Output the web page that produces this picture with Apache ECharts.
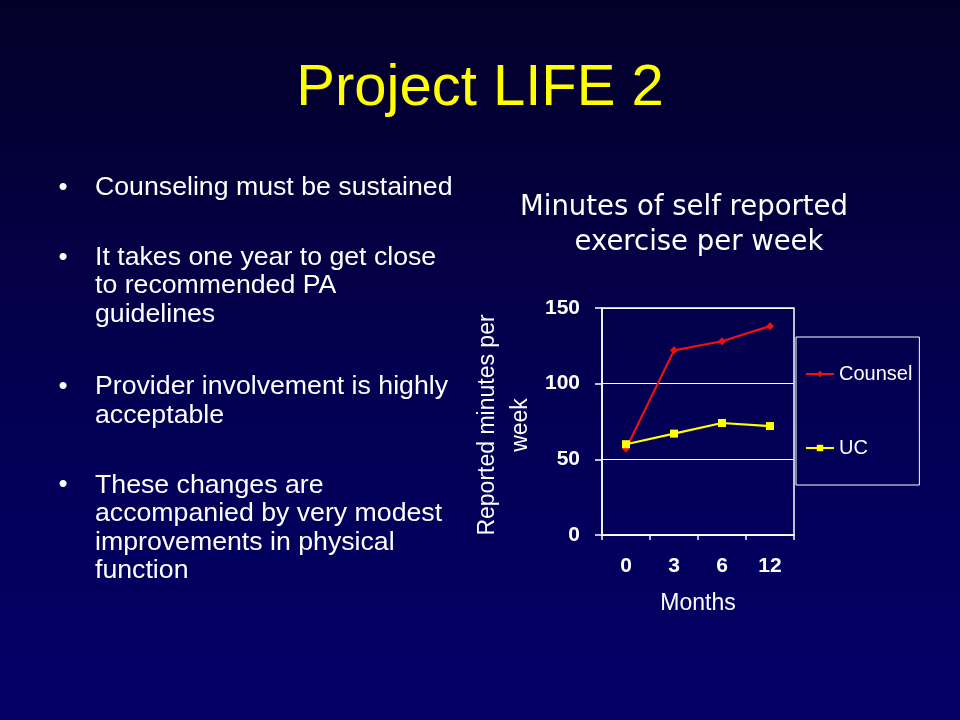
<!DOCTYPE html>
<html>
<head>
<meta charset="utf-8">
<script src="https://cdn.jsdelivr.net/npm/echarts@6/dist/echarts.min.js"></script>
<style>
html,body{margin:0;padding:0;width:960px;height:720px;overflow:hidden;
background:linear-gradient(to bottom,#030028 0%,#030050 50%,#020068 100%);}
#c{width:960px;height:720px;}
</style>
</head>
<body>
<div id="c"></div>
<script>
var months = ['0', '3', '6', '12'];
var counsel = [57, 122, 128, 138];
var uc = [60, 67, 74, 72];
var slideTitle = 'Project LIFE 2';
var chartTitle1 = 'Minutes of self reported';
var chartTitle2 = 'exercise per week';
var yName = 'Reported minutes per\nweek';
var xName = 'Months';
var bullets = [
  'Counseling must be sustained',
  'It takes one year to get close\nto recommended PA\nguidelines',
  'Provider involvement is highly\nacceptable',
  'These changes are\naccompanied by very modest\nimprovements in physical\nfunction'
];
var bulletY = [188, 286, 401, 528];

var chart = echarts.init(document.getElementById('c'));
var graphics = [
  {type:'text', position:[480,89], style:{text:slideTitle, fill:'#ffff00', font:'58px "Liberation Sans", Arial', textAlign:'center', textVerticalAlign:'middle'}},
  {type:'text', position:[684,208], style:{text:chartTitle1, fill:'#ffffff', font:'27.5px "DejaVu Sans"', textAlign:'center', textVerticalAlign:'middle'}},
  {type:'text', position:[699,243], style:{text:chartTitle2, fill:'#ffffff', font:'27.5px "DejaVu Sans"', textAlign:'center', textVerticalAlign:'middle'}},
  {type:'text', position:[504,425], rotation:Math.PI/2, style:{text:yName, fill:'#ffffff', font:'23px "Liberation Sans", Arial', textAlign:'center', textVerticalAlign:'middle', lineHeight:33}},
  {type:'text', position:[698,604], style:{text:xName, fill:'#ffffff', font:'23px "Liberation Sans", Arial', textAlign:'center', textVerticalAlign:'middle'}}
];
bullets.forEach(function(b, i){
  graphics.push({type:'text', position:[95, bulletY[i]], style:{text:b, fill:'#ffffff', font:'26.7px "Liberation Sans", Arial', textAlign:'left', textVerticalAlign:'middle', lineHeight:28.5}});
  var nLines = b.split('\n').length;
  graphics.push({type:'text', position:[63, bulletY[i] - (nLines-1)*28.5/2], style:{text:'\u2022', fill:'#ffffff', font:'26px "Liberation Sans", Arial', textAlign:'center', textVerticalAlign:'middle'}});
});

chart.setOption({
  backgroundColor:'transparent',
  animation:false,
  textStyle:{fontFamily:'"Liberation Sans", Arial'},
  grid:{left:602, right:166, top:308, bottom:185, show:true, borderColor:'#ffffff', borderWidth:1.5, backgroundColor:'transparent'},
  legend:{
    orient:'vertical', left:796, top:337,
    padding:[27,7,27,9], itemGap:54, itemWidth:28, itemHeight:8,
    borderColor:'#ffffff', borderWidth:1,
    textStyle:{color:'#ffffff', fontSize:20, lineHeight:20, fontFamily:'"Liberation Sans", Arial'},
    data:['Counsel','UC']
  },
  xAxis:{
    type:'category', data:months, boundaryGap:true,
    axisLine:{lineStyle:{color:'#ffffff', width:1.5}},
    axisTick:{show:true, length:5, lineStyle:{color:'#ffffff', width:1.5}},
    axisLabel:{color:'#ffffff', fontSize:21, fontWeight:'bold', margin:21}
  },
  yAxis:{
    type:'value', min:0, max:150, interval:50,
    axisLine:{show:true, lineStyle:{color:'#ffffff', width:1.5}},
    axisTick:{show:true, length:7, lineStyle:{color:'#ffffff', width:1.5}},
    axisLabel:{color:'#ffffff', fontSize:21, fontWeight:'bold', margin:22},
    splitLine:{show:true, lineStyle:{color:'#ffffff', width:1.2}}
  },
  series:[
    {name:'Counsel', type:'line', data:counsel, symbol:'diamond', symbolSize:8, color:'#ee1111',
     lineStyle:{color:'#ee1111', width:2.2}, itemStyle:{color:'#ee1111'}},
    {name:'UC', type:'line', data:uc, symbol:'rect', symbolSize:8, color:'#ffff00',
     lineStyle:{color:'#ffff00', width:2.2}, itemStyle:{color:'#ffff00'}}
  ],
  graphic:graphics
});
</script>
</body>
</html>
